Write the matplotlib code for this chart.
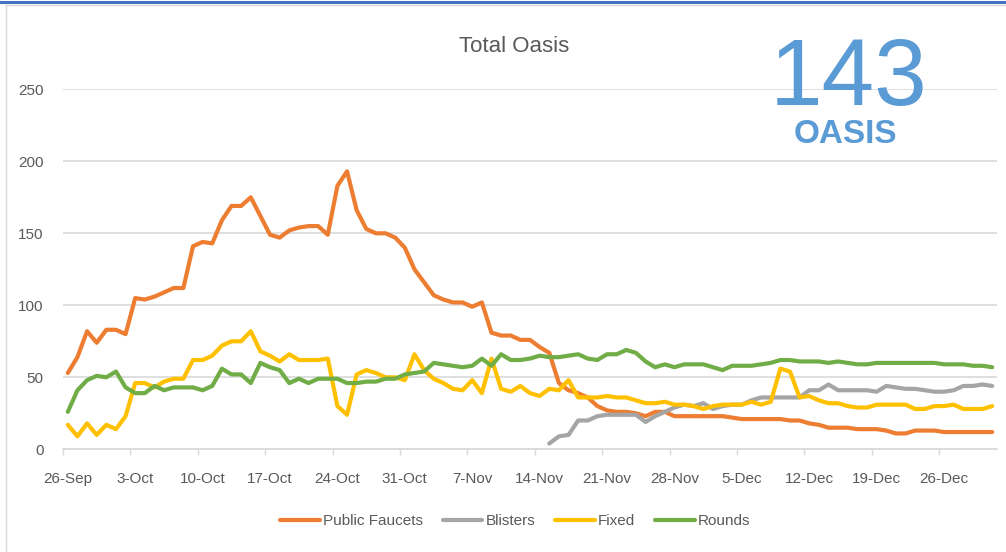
import matplotlib
matplotlib.use('Agg')
import matplotlib.pyplot as plt
from matplotlib.lines import Line2D
import numpy as np
import pandas as pd

plt.rcParams['font.family'] = ['Liberation Sans', 'DejaVu Sans']

# daily values, 26-Sep .. 31-Dec
dates = pd.date_range('2020-09-26', '2020-12-31', freq='D')

public_faucets = [53, 64, 82, 74, 83, 83, 80, 105, 104, 106,
                  109, 112, 112, 141, 144, 143, 159, 169, 169, 175,
                  162, 149, 147, 152, 154, 155, 155, 149, 183, 193,
                  166, 153, 150, 150, 147, 140, 125, 116, 107, 104,
                  102, 102, 99, 102, 81, 79, 79, 76, 76, 71,
                  67, 46, 41, 39, 36, 30, 27, 26, 26, 25,
                  23, 26, 26, 23, 23, 23, 23, 23, 23, 22,
                  21, 21, 21, 21, 21, 20, 20, 18, 17, 15,
                  15, 15, 14, 14, 14, 13, 11, 11, 13, 13,
                  13, 12, 12, 12, 12, 12, 12]

blisters = [None] * 50 + [4, 9, 10, 20, 20, 23, 24, 24, 24, 24,
                          19, 23, 26, 29, 31, 30, 32, 28, 30, 31,
                          31, 34, 36, 36, 36, 36, 36, 41, 41, 45,
                          41, 41, 41, 41, 40, 44, 43, 42, 42, 41,
                          40, 40, 41, 44, 44, 45, 44]

fixed = [17, 9, 18, 10, 17, 14, 23, 46, 46, 43,
         47, 49, 49, 62, 62, 65, 72, 75, 75, 82,
         68, 65, 61, 66, 62, 62, 62, 63, 30, 24,
         52, 55, 53, 50, 50, 48, 66, 55, 49, 46,
         42, 41, 48, 39, 63, 42, 40, 44, 39, 37,
         42, 41, 48, 36, 36, 36, 37, 36, 36, 34,
         32, 32, 33, 31, 31, 30, 28, 30, 31, 31,
         31, 33, 31, 33, 56, 54, 36, 37, 34, 32,
         32, 30, 29, 29, 31, 31, 31, 31, 28, 28,
         30, 30, 31, 28, 28, 28, 30]

rounds = [26, 41, 48, 51, 50, 54, 43, 39, 39, 44,
          41, 43, 43, 43, 41, 44, 56, 52, 52, 46,
          60, 57, 55, 46, 49, 46, 49, 49, 49, 46,
          46, 47, 47, 49, 49, 52, 53, 54, 60, 59,
          58, 57, 58, 63, 58, 66, 62, 62, 63, 65,
          64, 64, 65, 66, 63, 62, 66, 66, 69, 67,
          61, 57, 59, 57, 59, 59, 59, 57, 55, 58,
          58, 58, 59, 60, 62, 62, 61, 61, 61, 60,
          61, 60, 59, 59, 60, 60, 60, 60, 60, 60,
          60, 59, 59, 59, 58, 58, 57]

series = [('Public Faucets', public_faucets, '#ED7D31'),
          ('Blisters', blisters, '#A5A5A5'),
          ('Fixed', fixed, '#FFC000'),
          ('Rounds', rounds, '#70AD47')]

W, H = 1006, 552
fig = plt.figure(figsize=(W / 100, H / 100), dpi=100)
ax = fig.add_axes([63 / W, 1 - 449.3 / H, (997 - 63) / W, 360 / H])

for name, vals, col in series:
    y = np.array([np.nan if v is None else v for v in vals], dtype=float)
    ax.plot(dates, y, color=col, lw=3, label=name,
            solid_joinstyle='round', solid_capstyle='round')

ax.set_ylim(0, 250)
ax.set_yticks(np.arange(0, 251, 50))
half = pd.Timedelta(hours=12)
ax.set_xlim(dates[0] - half, dates[-1] + half)
ax.set_xticks(dates[::7])
ax.set_xticklabels([d.strftime('%-d-%b') for d in dates[::7]])
ax.set_xticks(dates[::7] - half, minor=True)

grey_txt = '#595959'
ax.tick_params(axis='x', which='major', length=0, pad=16, labelsize=11, labelcolor=grey_txt)
ax.tick_params(axis='x', which='minor', length=4.5, width=1, color='#D9D9D9')
ax.tick_params(axis='y', length=0, pad=14, labelsize=11, labelcolor=grey_txt)
ax.grid(axis='y', color='#D9D9D9', lw=1.2)
ax.set_axisbelow(True)
for s in ['top', 'right', 'left']:
    ax.spines[s].set_visible(False)
ax.spines['bottom'].set_color('#D9D9D9')
ax.spines['bottom'].set_linewidth(1.2)

fig.text(513.7 / W, 1 - 52.3 / H, 'Total Oasis', ha='center', va='baseline',
         fontsize=16, color=grey_txt)
fig.text(849 / W, 1 - 105 / H, '143', ha='center', va='baseline',
         fontsize=68, color='#5B9BD5')
fig.text(845.5 / W, 1 - 143.3 / H, 'OASIS', ha='center', va='baseline',
         fontsize=24, fontweight='bold', color='#5B9BD5')

fig.legend(loc='center', bbox_to_anchor=(515 / W, 1 - 521 / H), ncol=4,
           frameon=False, fontsize=11, handlelength=2.6, handletextpad=0.2,
           columnspacing=1.3, labelcolor=grey_txt)

# chart frame bits
fig.add_artist(Line2D([0, 1], [1 - 1.5 / H] * 2, transform=fig.transFigure,
                      color='#4472C4', lw=2.2))
fig.add_artist(Line2D([6 / W, 6 / W], [0, 1 - 5 / H], transform=fig.transFigure,
                      color='#D9D9D9', lw=1))
fig.add_artist(Line2D([6 / W, 1], [1 - 5 / H] * 2, transform=fig.transFigure,
                      color='#D9D9D9', lw=1))

fig.savefig('out.png', dpi=100)
